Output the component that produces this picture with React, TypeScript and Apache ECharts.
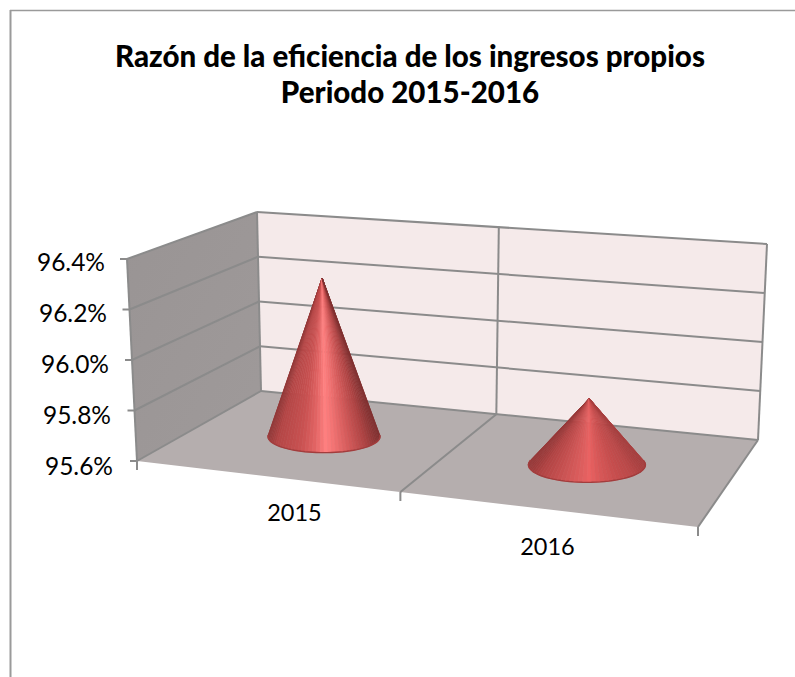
import React, { useEffect, useRef } from "react";
import * as echarts from "echarts";

const categories = ["2015", "2016"];
const coneValues = [96.25, 95.86];
const yTicks = [95.6, 95.8, 96.0, 96.2, 96.4];
const yMin = 95.6;
const yMax = 96.4;
const yStep = 0.2;
const titleText = "Razón de la eficiencia de los ingresos propios\nPeriodo 2015-2016";

type P = [number, number];
const FL: P = [137, 461], FR: P = [698, 527], BR: P = [758, 440], BL: P = [261, 391];
const HFL: P = [-10, -202], HBL: P = [-4, -179], HBR: P = [9, -196], HFR: P = [15, -222];

// Homography from the unit square (u along categories, v into depth) to the floor
function floorHomography() {
  const [x0, y0] = FL, [x1, y1] = FR, [x2, y2] = BR, [x3, y3] = BL;
  const dx1 = x1 - x2, dx2 = x3 - x2, sx = x0 - x1 + x2 - x3;
  const dy1 = y1 - y2, dy2 = y3 - y2, sy = y0 - y1 + y2 - y3;
  const den = dx1 * dy2 - dx2 * dy1;
  const g = (sx * dy2 - dx2 * sy) / den;
  const h = (dx1 * sy - sx * dy1) / den;
  return {
    a: x1 - x0 + g * x1, b: x3 - x0 + h * x3, c: x0,
    d: y1 - y0 + g * y1, e: y3 - y0 + h * y3, f: y0, g, h,
  };
}
const H = floorHomography();
function project(u: number, v: number, w: number): P {
  const q = H.g * u + H.h * v + 1;
  const x = (H.a * u + H.b * v + H.c) / q;
  const y = (H.d * u + H.e * v + H.f) / q;
  const mix = (i: 0 | 1) =>
    (1 - u) * (1 - v) * HFL[i] + u * (1 - v) * HFR[i] + u * v * HBR[i] + (1 - u) * v * HBL[i];
  return [x + mix(0) * w, y + mix(1) * w];
}

const LINE = "#8b8b8b";
const tallStops: [number, number[]][] = [
  [0, [146, 56, 56]], [0.08, [180, 70, 70]], [0.3, [202, 82, 82]], [0.42, [226, 100, 100]],
  [0.52, [255, 128, 128]], [0.6, [240, 114, 114]], [0.72, [214, 92, 92]], [0.87, [176, 68, 68]], [1, [128, 48, 48]],
];
const lowStops: [number, number[]][] = [
  [0, [150, 56, 56]], [0.1, [178, 68, 68]], [0.3, [204, 84, 84]], [0.45, [222, 94, 94]],
  [0.52, [234, 98, 98]], [0.62, [216, 88, 88]], [0.75, [200, 78, 78]], [0.9, [186, 72, 72]], [1, [166, 62, 62]],
];
function shade(stops: [number, number[]][], t: number) {
  const c = Math.max(0, Math.min(1, t));
  for (let i = 1; i < stops.length; i++) {
    if (c <= stops[i][0]) {
      const [t0, a] = stops[i - 1], [t1, b] = stops[i];
      const f = (c - t0) / (t1 - t0);
      const col = a.map((v, j) => Math.round(v + (b[j] - v) * f));
      return `rgb(${col[0]},${col[1]},${col[2]})`;
    }
  }
  return "#7e3030";
}
const line = (a: P, b: P, width = 2, color = LINE) => ({
  type: "line",
  shape: { x1: a[0], y1: a[1], x2: b[0], y2: b[1] },
  style: { stroke: color, lineWidth: width },
  silent: true,
});
const poly = (points: P[], fill: any) => ({ type: "polygon", shape: { points }, style: { fill }, silent: true });

export default function App() {
  const ref = useRef<HTMLDivElement>(null);
  useEffect(() => {
    const chart = echarts.init(ref.current!, undefined, { renderer: "svg" });
    const labelStyles = ["r0", "r1", "r2", "r3", "r4"];
    const rich: any = {};
    labelStyles.forEach((n, i) => {
      rich[n] = { fontFamily: "Lato", fontSize: 24.5, color: "#000", padding: [0, i * 2, 0, 0], align: "right" };
    });
    chart.setOption({
      animation: false,
      backgroundColor: "#fff",
      title: {
        text: titleText,
        left: 405,
        top: 33,
        textAlign: "center",
        textStyle: { fontFamily: "Lato", fontWeight: 900, fontSize: 29.5, lineHeight: 35.5, color: "#000" },
      },
      graphic: [
        { type: "line", shape: { x1: 10.5, y1: 10, x2: 10.5, y2: 677 }, style: { stroke: "#9a9a9a", lineWidth: 2 } },
        { type: "line", shape: { x1: 10, y1: 10.5, x2: 795, y2: 10.5 }, style: { stroke: "#9a9a9a", lineWidth: 1.5 } },
      ],
      grid: { left: 168, width: 506, top: 261, height: 204 },
      xAxis: {
        type: "category",
        data: categories,
        axisLine: { show: false },
        axisTick: { show: false },
        axisLabel: {
          margin: 35,
          interval: 0,
          formatter: (v: string, i: number) => `{c${i}|${v}}`,
          rich: {
            c0: { fontFamily: "Lato", fontSize: 23.5, color: "#000" },
            c1: { fontFamily: "Lato", fontSize: 23.5, color: "#000", padding: [34, 0, 0, 0] },
          },
        },
      },
      yAxis: {
        type: "value",
        min: yMin,
        max: yMax,
        interval: yStep,
        axisLine: { show: false },
        axisTick: { show: false },
        splitLine: { show: false },
        axisLabel: {
          margin: 55,
          formatter: (v: number) => {
            const i = yTicks.findIndex((t) => Math.abs(t - v) < 1e-6);
            return `{${labelStyles[i]}|${v.toFixed(1)}%}`;
          },
          rich,
        },
      },
      series: [
        {
          type: "custom",
          name: "scene",
          coordinateSystem: "cartesian2d",
          clip: false,
          silent: true,
          data: [[categories[0], yMin]],
          z: 1,
          renderItem: (params: any, api: any) => {
            const cs = params.coordSys;
            const ws = yTicks.map((t) => (cs.y + cs.height - api.coord([0, t])[1]) / cs.height);
            const top = 1, kids: any[] = [];
            kids.push(poly([project(0, 0, 0), project(0, 1, 0), project(0, 1, top), project(0, 0, top)], {
              type: "linear", x: 0, y: 0, x2: 1, y2: 1,
              colorStops: [{ offset: 0, color: "#999494" }, { offset: 1, color: "#9f9a9a" }],
            }));
            kids.push(poly([project(0, 1, 0), project(1, 1, 0), project(1, 1, top), project(0, 1, top)], "#f5eaea"));
            kids.push(poly([project(0, 0, 0), project(1, 0, 0), project(1, 1, 0), project(0, 1, 0)], "#b5aeae"));
            ws.forEach((w) => {
              kids.push(line(project(0, 0, w), project(0, 1, w)));
              kids.push(line(project(0, 1, w), project(1, 1, w)));
              const p = project(0, 0, w);
              kids.push(line([p[0] - 7, p[1]], p));
            });
            kids.push(line(project(0.5, 1, 0), project(0.5, 1, 1)));
            kids.push(line(project(0.5, 0, 0), project(0.5, 1, 0)));
            kids.push(line(project(1, 1, 0), project(1, 1, 1)));
            kids.push(line(project(0, 1, 0), project(0, 1, 1)));
            kids.push(line(project(0, 0, 0), project(0, 0, 1)));
            kids.push(line(project(1, 0, 0), project(1, 1, 0)));
            [0, 0.5, 1].forEach((u) => {
              const p = project(u, 0, 0);
              kids.push(line(p, [p[0], p[1] + 9]));
            });
            return { type: "group", children: kids };
          },
        },
        {
          type: "custom",
          name: "Razón",
          coordinateSystem: "cartesian2d",
          clip: false,
          silent: true,
          z: 2,
          encode: { x: 0, y: 1 },
          data: categories.map((c, i) => [i, coneValues[i]]),
          renderItem: (params: any, api: any) => {
            const cs = params.coordSys;
            const pt = api.coord([api.value(0), api.value(1)]);
            const u = (pt[0] - cs.x) / cs.width;
            const w = (cs.y + cs.height - pt[1]) / cs.height;
            const c = project(u, 0.5, 0);
            const apex = project(u, 0.5, w);
            const rx = 54.75 + 5 * u, ry = 15.25 + 3 * u;
            const stops = w > 0.5 ? tallStops : lowStops;
            const h = c[1] - apex[1];
            const a = Math.asin(Math.min(0.9, ry / h));
            const N = 48;
            const kids: any[] = [];
            const edge = (th: number): P => [c[0] + rx * Math.cos(th), c[1] + ry * Math.sin(th)];
            const rim: P[] = [];
            for (let i = 0; i < N; i++) {
              const t0 = Math.PI + a - ((Math.PI + 2 * a) * i) / N;
              const t1 = Math.PI + a - ((Math.PI + 2 * a) * (i + 1)) / N;
              const p0 = edge(t0), p1 = edge(t1);
              const col = shade(stops, ((p0[0] + p1[0]) / 2 - (c[0] - rx)) / (2 * rx));
              kids.push({
                type: "polygon",
                shape: { points: [apex, p0, p1] },
                style: { fill: col, stroke: col, lineWidth: 0.6 },
                silent: true,
              });
              rim.push(p0);
              if (i === N - 1) rim.push(p1);
            }
            kids.push({
              type: "polyline",
              shape: { points: rim },
              style: { stroke: "#a23d3d", lineWidth: 1.4, fill: "none" },
              silent: true,
            });
            return { type: "group", children: kids };
          },
        },
      ],
    });
    return () => chart.dispose();
  }, []);
  return <div ref={ref} style={{ position: "absolute", left: 0, top: 0, width: 795, height: 677 }} />;
}
